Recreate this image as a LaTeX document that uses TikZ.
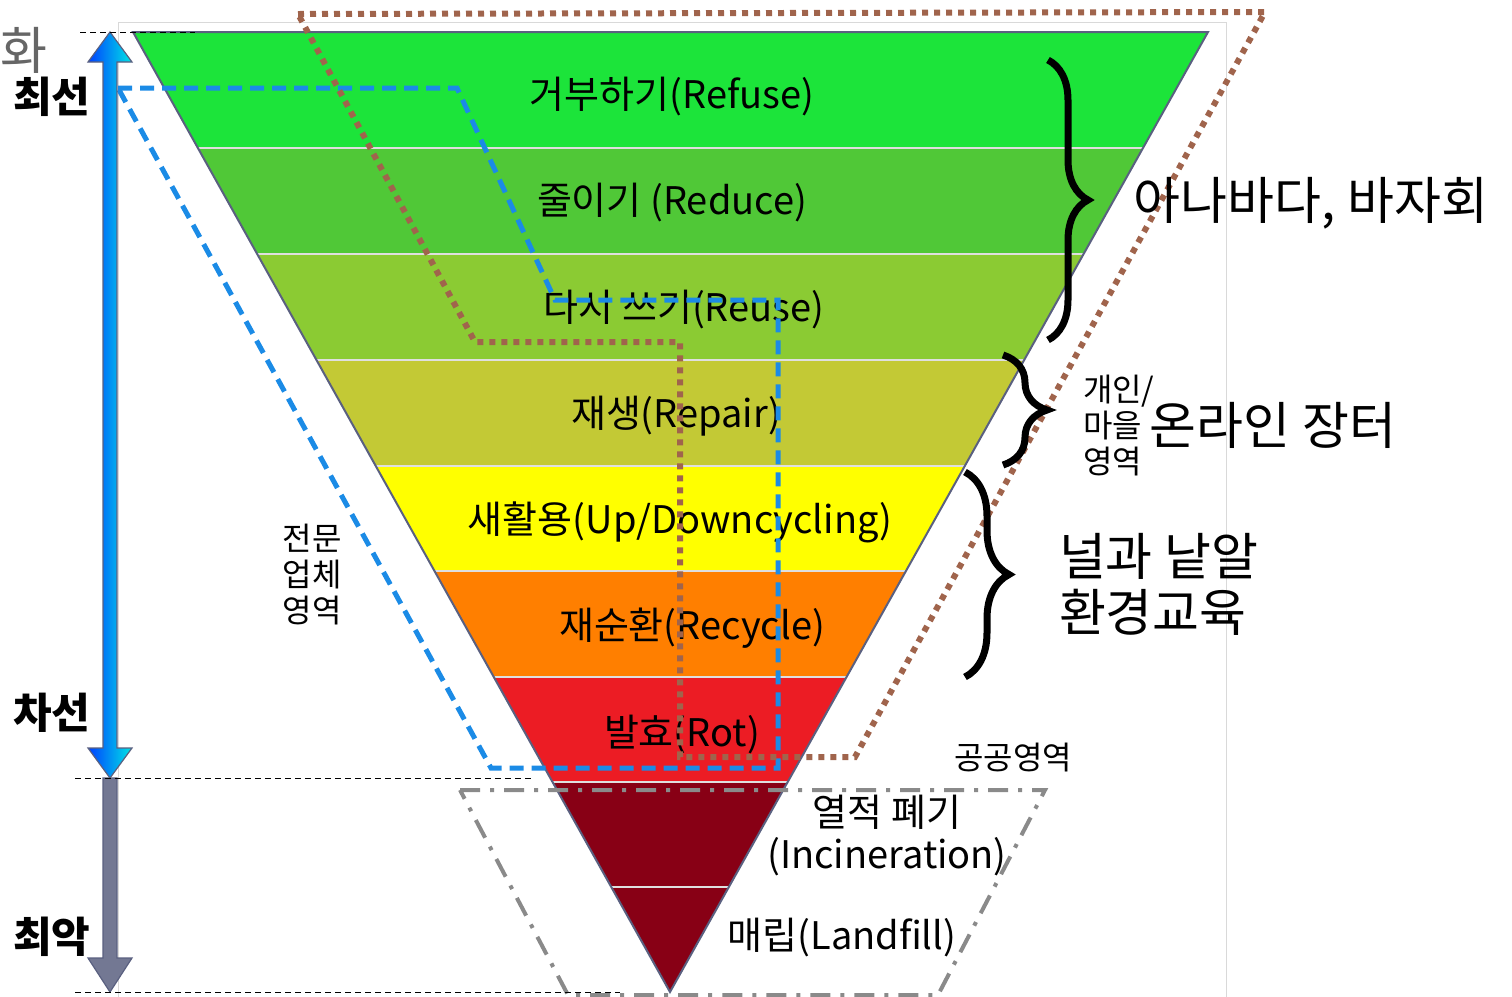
\documentclass[tikz,border=0pt]{standalone}
\usepackage{fontspec}
\setmainfont{Noto Sans CJK KR}
\usepackage{tikz}
\usetikzlibrary{decorations.pathreplacing,positioning}
\usepackage{xcolor}
\definecolor{bandA}{HTML}{1CE43A}
\definecolor{bandB}{HTML}{50C837}
\definecolor{bandC}{HTML}{8BCB33}
\definecolor{bandD}{HTML}{C3C935}
\definecolor{bandE}{HTML}{FFFF00}
\definecolor{bandF}{HTML}{FF7F00}
\definecolor{bandG}{HTML}{EC1C24}
\definecolor{bandH}{HTML}{880015}
\definecolor{problue}{HTML}{1B8BE6}
\definecolor{homebrown}{HTML}{A0644C}
\definecolor{publicgray}{HTML}{8A8A8A}
\definecolor{edgeblue}{HTML}{5A6080}

\begin{document}
\begin{tikzpicture}[x=0.5pt,y=-0.5pt,line join=miter,
  level/.style={font=\fontsize{19}{21}\selectfont},
  side/.style={font=\fontsize{16}{18}\selectfont,align=left},
  big/.style={font=\fontsize{25.5}{28}\selectfont,align=left},
  rank/.style={font=\fontsize{21}{24}\selectfont\bfseries},
  zone/.style={line width=2.5pt},
  curly/.style={draw,line width=3.5pt,decorate},
  guide/.style={densely dashed,line width=0.5pt}]
  \useasboundingbox (0,0) rectangle (1512,997);

  % frame
  \draw[gray!30,line width=0.5pt] (118,997) -- (118,22) -- (1226,22) -- (1226,997);

  % pyramid
  \coordinate (TL) at (133,32);
  \coordinate (TR) at (1208,32);
  \coordinate (apex) at (670,992);
  \begin{scope}
    \clip (TL) -- (TR) -- (apex) -- cycle;
    \foreach \ya/\yb/\col in {32/148/bandA,148/254/bandB,254/360/bandC,360/466/bandD,
        466/571/bandE,571/677/bandF,677/782/bandG,782/992/bandH}
      \fill[\col] (100,\ya) rectangle (1250,\yb);
    \foreach \yb in {148,254,360,466,571,677,782,887}
      \draw[gray!25,line width=1pt] (100,\yb) -- (1250,\yb);
  \end{scope}
  \draw[edgeblue,line width=1pt] (apex) -- (TL) -- (TR) -- cycle;

  % levels
  \node[level] (refuse)  at (672,97)  {거부하기(Refuse)};
  \node[level] (reduce)  at (672,203) {줄이기 (Reduce)};
  \node[level] (reuse)   at (684,310) {다시 쓰기(Reuse)};
  \node[level] (repair)  at (676,416) {재생(Repair)};
  \node[level] (cycling) at (680,522) {새활용(Up/Downcycling)};
  \node[level] (recycle) at (692,628) {재순환(Recycle)};
  \node[level] (rot)     at (682,735) {발효(Rot)};
  \node[level,align=center] (burn) at (887,836) {열적 폐기\\(Incineration)};
  \node[level] (landfill) at (842,938) {매립(Landfill)};

  % zones
  \draw[zone,problue,dash pattern=on 7pt off 4pt]
    (118,88) -- (457,88) -- (555,300) -- (778,300) -- (778,768) -- (491,768) -- cycle;
  \draw[zone,homebrown,line width=3pt,dash pattern=on 3pt off 3pt]
    (298,14) -- (1265,12) -- (855,757) -- (680,757) -- (680,342) -- (475,342) -- cycle;
  \draw[zone,publicgray,line width=2pt,dash pattern=on 10pt off 5pt on 2pt off 5pt]
    (460,790) -- (1045,790) -- (938,995) -- (568,995) -- cycle;

  \node[side,align=center] (pro) at (312,575) {전문\\업체\\영역};
  \node[side] (home) [anchor=west] at (1076,426) {개인/\\마을\\영역};
  \node[side] (public) at (1013,758) {공공영역};

  % braces
  \draw[curly,decoration={brace,amplitude=20pt,aspect=0.5}] (1048,60) -- (1048,340);
  \draw[curly,decoration={brace,amplitude=22pt,aspect=0.5}] (1003,355) -- (1003,465);
  \draw[curly,decoration={brace,amplitude=22pt,aspect=0.5}] (965,472) -- (965,677);

  \node[big] (market)  at (1311,203) {아나바다, 바자회};
  \node[big] (online)  at (1273,425) {온라인 장터};
  \node[big] (school) [anchor=west] at (1052,584) {널과 낱알\\환경교육};

  % ranking arrows
  \shade[left color=blue!75!cyan,right color=cyan!80!teal,draw=edgeblue,line width=0.6pt]
    (103,62) -- (88,62) -- (110,32) -- (132,62) -- (117,62) -- (117,748) -- (132,748)
    -- (110,778) -- (88,748) -- (103,748) -- cycle;
  \draw[fill=edgeblue!85!white,draw=edgeblue,line width=0.6pt]
    (103,778) -- (117,778) -- (117,958) -- (132,958) -- (110,992) -- (88,958) -- (103,958) -- cycle;
  \draw[guide] (80,32) -- (195,32);
  \draw[guide] (75,778) -- (532,778);
  \draw[guide] (75,992) -- (620,992);

  \node[rank] (best)   at (52,97)  {최선};
  \node[rank] (second) at (52,713) {차선};
  \node[rank] (worst)  at (52,937) {최악};
  \node[big,gray!80!black,anchor=west,inner xsep=0pt] (cut) at (0,50) {화};
\end{tikzpicture}
\end{document}
